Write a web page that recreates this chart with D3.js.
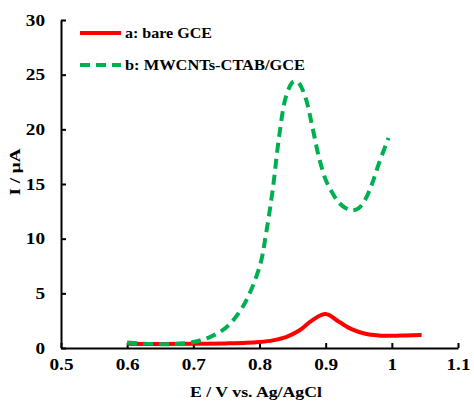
<!DOCTYPE html>
<html><head><meta charset="utf-8">
<script src="https://cdn.jsdelivr.net/npm/d3@7"></script>
<style>body{margin:0;background:#fff}svg{display:block}text{font-family:"Liberation Serif","Times New Roman",serif;font-weight:bold}</style>
</head><body><svg id="c" width="474" height="410"></svg>
<script>
const redE = [0.6,0.65,0.7,0.75,0.78,0.8,0.82,0.84,0.86,0.88,0.9,0.92,0.94,0.96,0.98,1.0,1.02,1.045];
const redI = [0.38,0.37,0.38,0.42,0.47,0.55,0.7,1.0,1.6,2.55,3.1,2.4,1.7,1.3,1.15,1.12,1.15,1.2];
const greenE = [0.6,0.625,0.65,0.675,0.7,0.725,0.75,0.775,0.8,0.81,0.82,0.83,0.84,0.85,0.855,0.86,0.87,0.88,0.89,0.9,0.91,0.92,0.93,0.94,0.95,0.96,0.97,0.98,0.995];
const greenI = [0.5,0.4,0.35,0.38,0.55,1.0,1.9,3.8,7.4,10.5,14.5,19.5,23.0,24.3,24.4,24.2,22.8,20.2,17.4,15.4,14.2,13.3,12.8,12.6,12.8,13.6,15.0,16.8,19.2];
const xTicks = [0.5,0.6,0.7,0.8,0.9,1.0,1.1];
const xTickLabels = ["0.5","0.6","0.7","0.8","0.9","1","1.1"];
const yTicks = [0,5,10,15,20,25,30];
const seriesNames = ["a: bare GCE","b: MWCNTs-CTAB/GCE"];
const seriesColors = ["#FF0000","#00B050"];

const svg = d3.select("#c");
const x = d3.scaleLinear().domain([0.5,1.1]).range([61,458]);
const y = d3.scaleLinear().domain([0,30]).range([348,20]);

function stretch(sel, k){
  sel.each(function(){
    const w = this.getComputedTextLength();
    d3.select(this).attr("textLength", w*k).attr("lengthAdjust","spacingAndGlyphs");
  });
}

const xa = svg.append("g").attr("transform","translate(0,348)")
  .call(d3.axisBottom(x).tickValues(xTicks).tickFormat((d,i)=>xTickLabels[i]).tickSizeInner(-5).tickSizeOuter(0).tickPadding(11));
const ya = svg.append("g").attr("transform","translate(61,0)")
  .call(d3.axisLeft(y).tickValues(yTicks).tickSizeInner(-5).tickSizeOuter(0).tickPadding(16));
[xa,ya].forEach(g=>{
  g.select(".domain").attr("stroke","#000").attr("stroke-width",2);
  g.selectAll(".tick line").attr("stroke","#000").attr("stroke-width",2);
  g.selectAll(".tick text").attr("fill","#000").style("font-size","16px").style("font-family","Liberation Serif, serif").style("font-weight","bold");
  stretch(g.selectAll(".tick text"), 1.2);
});

const line = d3.line().x(d=>x(d[0])).y(d=>y(d[1])).curve(d3.curveCatmullRom.alpha(0.5));
const red = redE.map((e,i)=>[e,redI[i]]);
const green = greenE.map((e,i)=>[e,greenI[i]]);
svg.append("path").datum(red).attr("d",line).attr("fill","none").attr("stroke",seriesColors[0]).attr("stroke-width",4);
svg.append("path").datum(green).attr("d",line).attr("fill","none").attr("stroke",seriesColors[1]).attr("stroke-width",4).attr("stroke-dasharray","10,6");

// legend
const legY = [33,65], legW = [87,180];
seriesNames.forEach((n,i)=>{
  const ln = svg.append("line").attr("x1",80).attr("x2",121).attr("y1",legY[i]).attr("y2",legY[i]).attr("stroke",seriesColors[i]).attr("stroke-width",4);
  if(i===1) ln.attr("stroke-dasharray","10,6");
  svg.append("text").attr("x",125).attr("y",legY[i]+5).style("font-size","14px").attr("fill","#000")
    .attr("textLength",legW[i]).attr("lengthAdjust","spacingAndGlyphs").text(n);
});

// axis titles
svg.append("text").attr("x",256).attr("y",397).attr("text-anchor","middle").style("font-size","15px")
  .attr("textLength",132).attr("lengthAdjust","spacingAndGlyphs").text("E / V vs. Ag/AgCl");
svg.append("text").attr("transform","translate(20,172) rotate(-90)").attr("text-anchor","middle").style("font-size","15px")
  .attr("textLength",47).attr("lengthAdjust","spacingAndGlyphs").text("I / μA");
</script></body></html>
